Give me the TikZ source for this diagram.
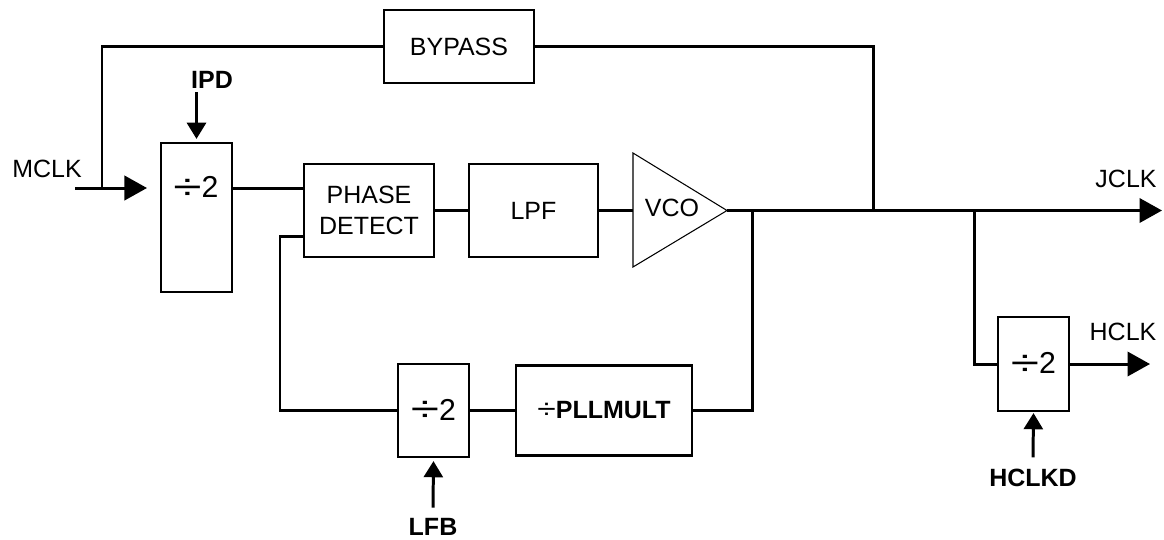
\documentclass[tikz,border=0pt]{standalone}
\usepackage{fontspec}
\usepackage{graphicx}
\setmainfont{Liberation Sans}
\usetikzlibrary{arrows.meta,positioning,calc}

\newcommand{\bigdiv}{\raisebox{-0.06em}{\scalebox{1.7}[1.2]{÷}}}

\begin{document}
\begin{tikzpicture}[x=0.01cm,y=-0.01cm,
  >={Triangle[length=6.4pt,width=6.9pt]},
  wire/.style={line width=0.85pt},
  small/.style={-{Triangle[length=4.6pt,width=5.4pt]}},
  blk/.style={draw,line width=0.6pt,inner sep=0pt,align=center,font=\fontsize{7.1pt}{8.7pt}\selectfont},
  lbl/.style={inner sep=0pt,font=\fontsize{7.1pt}{8.7pt}\selectfont},
  ctl/.style={inner sep=0pt,font=\fontsize{7.1pt}{8.7pt}\selectfont\bfseries},
  divtxt/.style={inner sep=0pt,font=\fontsize{8.6pt}{9.6pt}\selectfont}]
  \useasboundingbox (0,0) rectangle (1164,539);

  % blocks
  \node[blk,minimum width=1.5cm,minimum height=0.73cm] (bypass) at (459,46.5) {BYPASS};
  \node[blk,minimum width=0.71cm,minimum height=1.49cm] (ipdiv) at (196.5,217.5) {};
  \node[divtxt] (ipdivt) at (196,188) {\bigdiv2};
  \node[blk,minimum width=1.3cm,minimum height=0.93cm] (pd) at (369,210.5) {PHASE\\DETECT};
  \node[blk,minimum width=1.29cm,minimum height=0.93cm] (lpf) at (533.5,210.5) {LPF};
  \node[blk,divtxt,draw,minimum width=0.71cm,minimum height=0.93cm] (fbdiv) at (433.5,410.5) {\bigdiv2};
  \node[blk,minimum width=1.76cm,minimum height=0.9cm] (pll) at (604,410.5) {\scalebox{1.35}[1.1]{÷}\textbf{PLLMULT}};
  \node[blk,divtxt,draw,minimum width=0.71cm,minimum height=0.94cm] (hdiv) at (1033.5,364) {\bigdiv2};

  % vco triangle
  \coordinate (vcoa) at (633,153);
  \coordinate (vcob) at (633,267);
  \coordinate (vcoi) at (633,210.5);
  \coordinate (vcoo) at (727,210.5);
  \draw[line width=0.3pt] (vcoa) -- (vcoo) -- (vcob) -- cycle;
  \node[lbl] (vco) at (672,208) {VCO};

  % labels
  \node[lbl] (mclk) at (47,169) {MCLK};
  \node[lbl] (jclk) at (1126,179) {JCLK};
  \node[lbl] (hclk) at (1123,332) {HCLK};
  \node[ctl] (ipd) at (212,80) {IPD};
  \node[ctl] (lfb) at (433,527) {LFB};
  \node[ctl] (hclkd) at (1033,478) {HCLKD};

  \coordinate (mclkin) at (75,188);
  \coordinate (mclktip) at (147,188);
  \coordinate (bpl) at (102,188);
  \coordinate (bpr) at (873,210.5);
  \coordinate (fbtap) at (752,210.5);
  \coordinate (htap) at (974,210.5);
  \coordinate (fbcorner) at (280,236);
  \coordinate (jclktip) at (1162,210.5);
  \coordinate (hclktip) at (1150,364);

  % main path
  \draw[wire,->] (mclkin) -- (mclktip);
  \draw[wire] (bpl) |- (bypass.west);
  \draw[wire] (bypass.east) -| (bpr);
  \draw[wire] (ipdiv.east |- ipdivt) -- (pd.west |- ipdivt);
  \draw[wire] (pd.east) -- (lpf.west);
  \draw[wire] (lpf.east) -- (vcoi);
  \draw[wire,->] (vcoo) -- (jclktip);

  % feedback
  \draw[wire] (fbtap) |- (pll.east);
  \draw[wire] (pll.west) -- (fbdiv.east);
  \draw[wire] (fbdiv.west) -| (fbcorner) -- (fbcorner -| pd.west);

  % hclk branch
  \draw[wire] (htap) |- (hdiv.west);
  \draw[wire,->] (hdiv.east) -- (hclktip);

  % controls
  \draw[wire,small] ($(ipd.south -| ipdiv.north)+(0,3)$) -- ($(ipdiv.north)+(0,-3)$);
  \draw[wire,small] ($(lfb.north)+(0,-10)$) -- ($(fbdiv.south)+(0,3)$);
  \draw[wire,small] ($(hclkd.north)+(0,-11)$) -- ($(hdiv.south)+(0,1)$);
\end{tikzpicture}
\end{document}
